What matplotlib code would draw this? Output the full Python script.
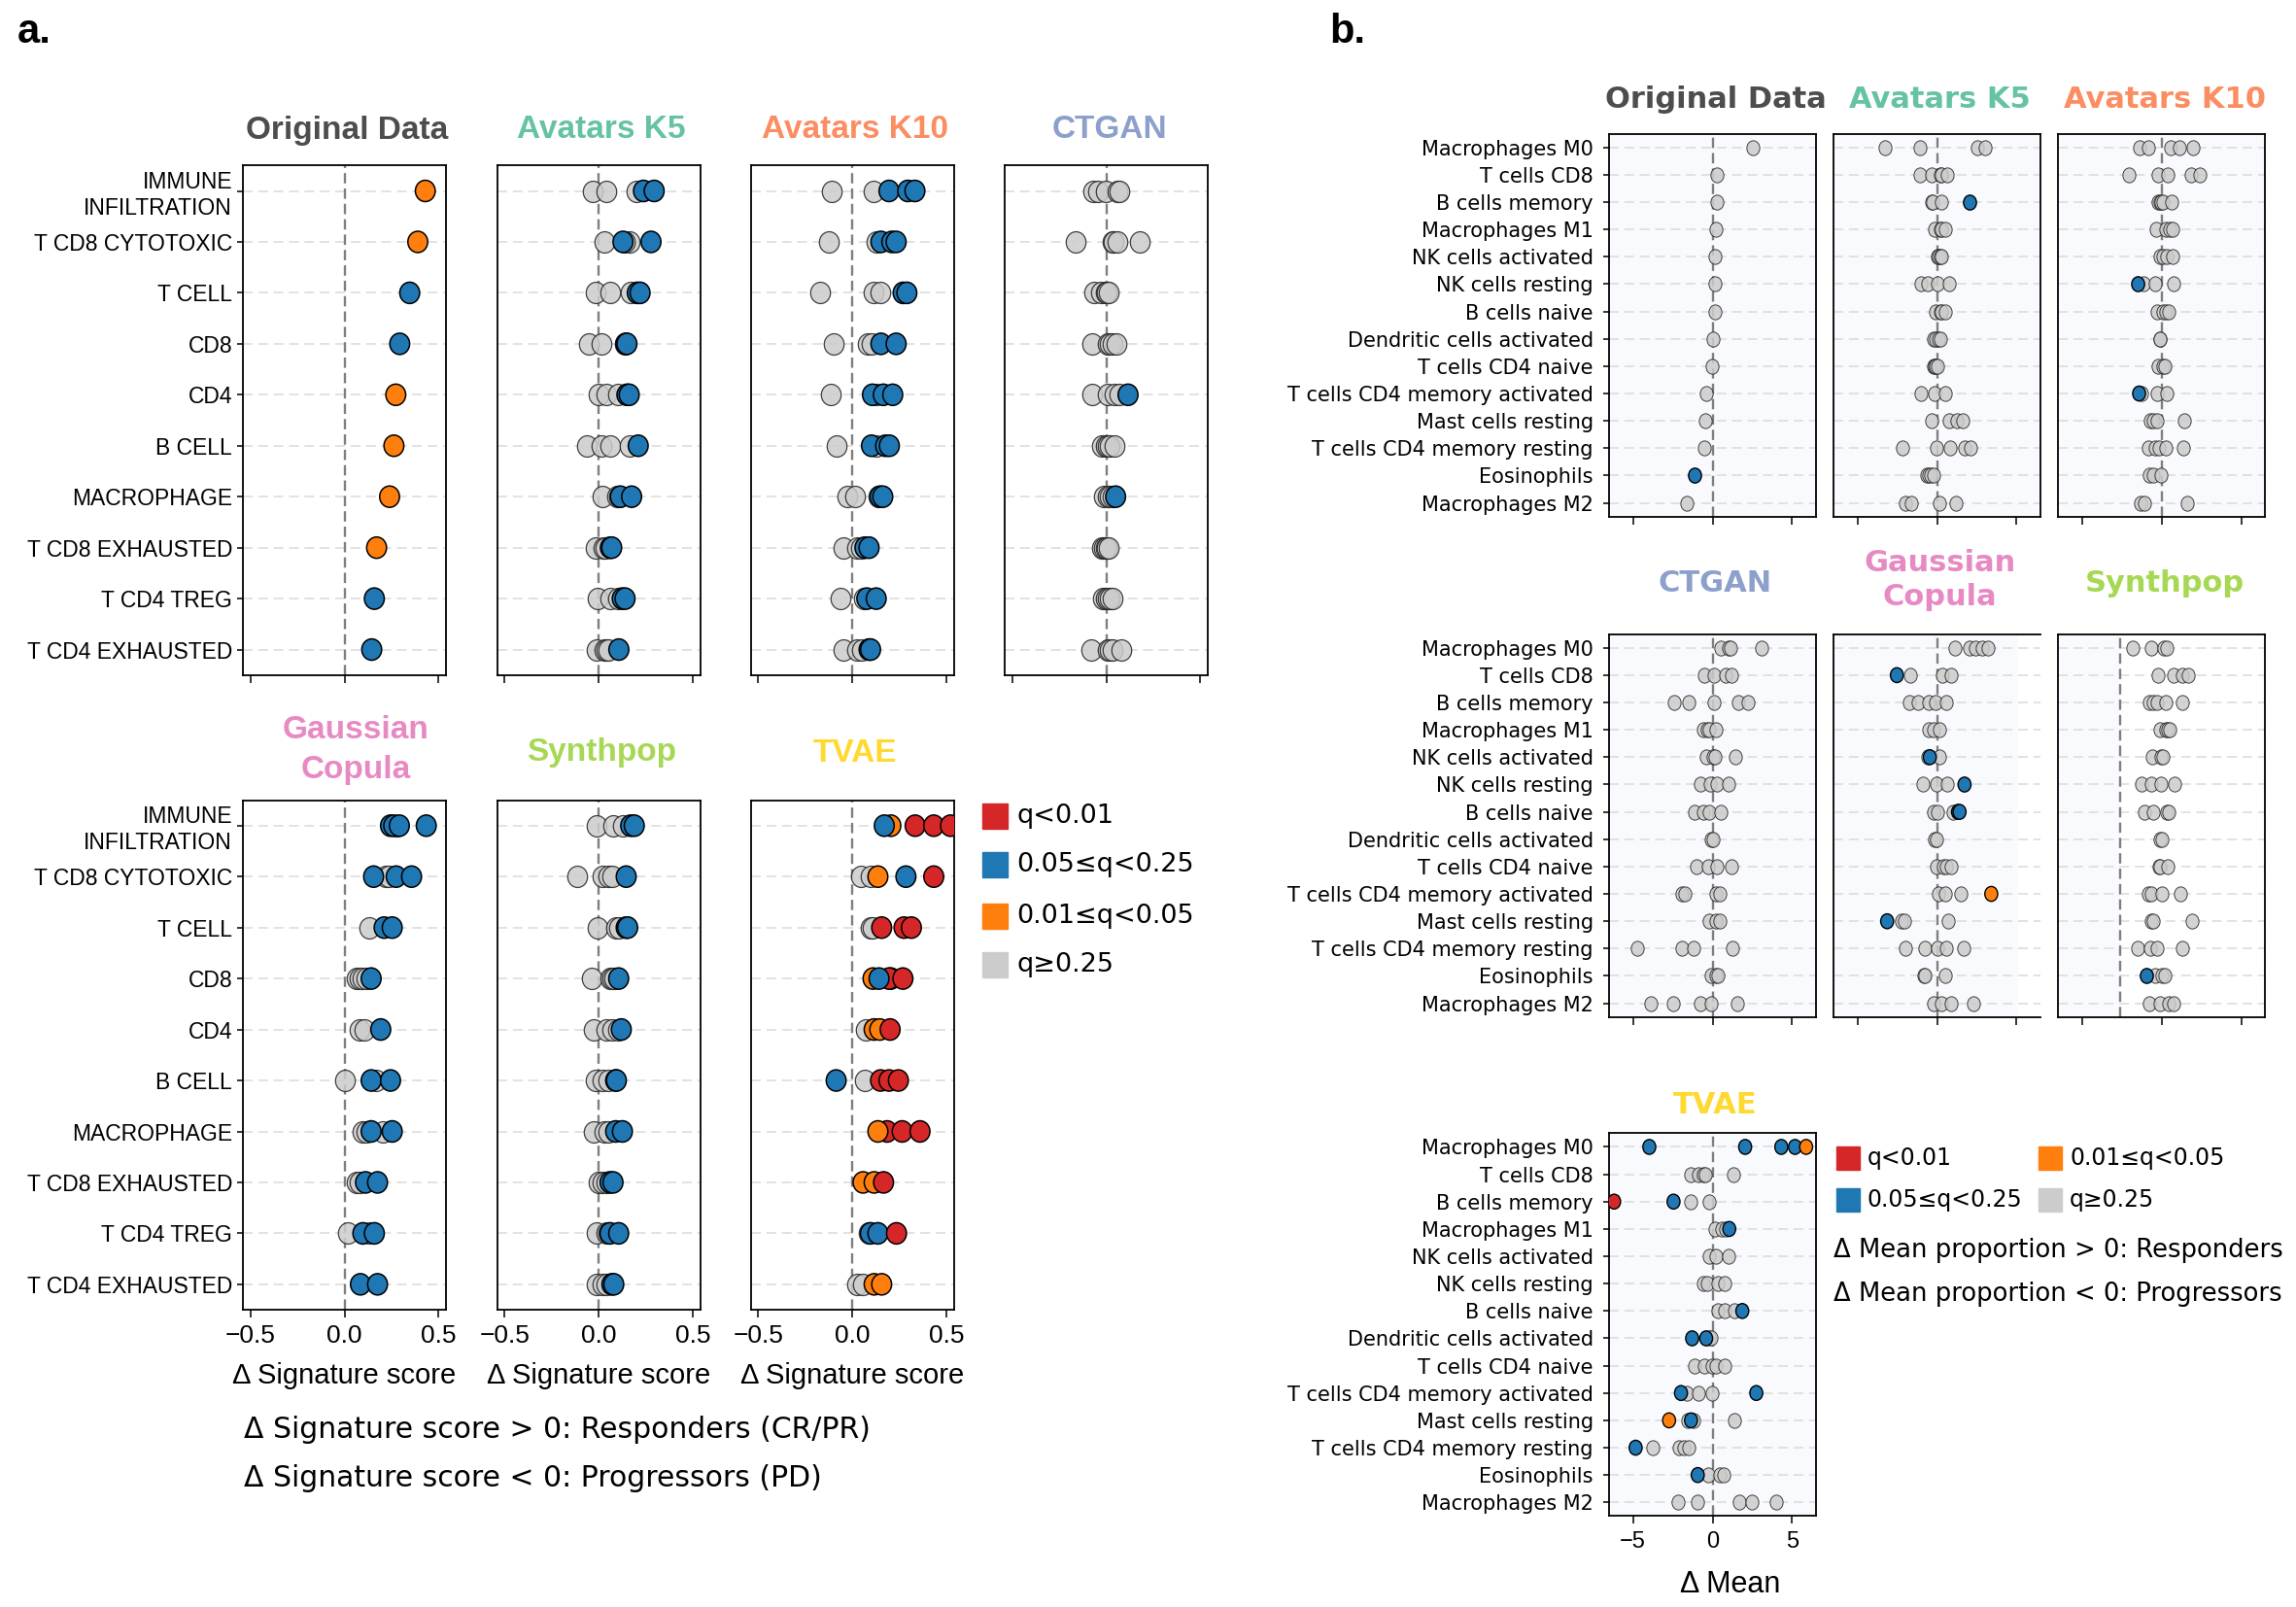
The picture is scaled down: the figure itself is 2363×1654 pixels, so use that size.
import matplotlib
matplotlib.use("Agg")
import matplotlib.pyplot as plt
from matplotlib.path import Path
from matplotlib.patches import Rectangle

plt.rcParams["font.family"] = ["Liberation Sans", "DejaVu Sans"]

# ---------------- data: panel a (signature scores) ----------------
signatures = ["IMMUNE\nINFILTRATION", "T CD8 CYTOTOXIC", "T CELL", "CD8", "CD4",
              "B CELL", "MACROPHAGE", "T CD8 EXHAUSTED", "T CD4 TREG", "T CD4 EXHAUSTED"]

# q codes: r q<0.01, o 0.01<=q<0.05, b 0.05<=q<0.25, g q>=0.25
a_orig_x = [[0.43], [0.39], [0.347], [0.294], [0.273], [0.263], [0.24], [0.171], [0.159], [0.145]]
a_orig_q = ["o", "o", "b", "b", "o", "o", "o", "o", "b", "b"]

a_k5_x = [[-0.03, 0.043, 0.20, 0.239, 0.296], [0.03, 0.163, 0.14, 0.13, 0.279],
          [-0.013, 0.063, 0.17, 0.206, 0.221], [-0.05, 0.018, 0.138, 0.145, 0.151],
          [0.0, 0.043, 0.105, 0.151, 0.163], [-0.06, 0.013, 0.063, 0.163, 0.211],
          [0.02, 0.10, 0.108, 0.116, 0.176], [-0.013, 0.025, 0.038, 0.063, 0.07],
          [-0.005, 0.063, 0.105, 0.126, 0.141], [-0.008, 0.03, 0.043, 0.05, 0.108]]
a_k5_q = ["gggbb", "gggbb", "gggbb", "gggbb", "gggbb", "ggggb", "gggbb", "gggbb", "gggbb", "ggggb"]

a_k10_x = [[-0.108, 0.116, 0.196, 0.296, 0.334], [-0.126, 0.128, 0.153, 0.211, 0.234],
           [-0.168, 0.116, 0.148, 0.271, 0.291], [-0.098, 0.083, 0.103, 0.153, 0.234],
           [-0.116, 0.128, 0.108, 0.166, 0.216], [-0.085, 0.128, 0.103, 0.178, 0.198],
           [-0.028, 0.018, 0.14, 0.148, 0.163], [-0.048, 0.028, 0.048, 0.068, 0.09],
           [-0.06, 0.06, 0.078, 0.128], [-0.048, 0.028, 0.053, 0.09, 0.098]]
a_k10_q = ["ggbbb", "ggbbb", "gggbb", "gggbb", "ggbbb", "ggbbb", "gggbb", "gggbb", "ggbb", "gggbb"]

a_ctgan_x = [[-0.068, -0.043, -0.005, 0.058, 0.07], [-0.163, 0.033, 0.04, 0.058, 0.176],
             [-0.063, -0.03, -0.005, 0.003, 0.013], [-0.075, 0.008, 0.02, 0.033, 0.053],
             [-0.073, 0.008, 0.045, 0.07, 0.116], [-0.023, -0.005, 0.008, 0.02, 0.045],
             [-0.013, 0.008, 0.02, 0.033, 0.05], [-0.023, -0.013, -0.005, 0.003, 0.013],
             [-0.018, -0.005, 0.008, 0.02, 0.033], [-0.08, 0.008, 0.02, 0.033, 0.078]]
a_ctgan_q = ["ggggg", "ggggg", "ggggg", "ggggg", "ggggb", "ggggg", "ggggb", "ggggg", "ggggg", "ggggg"]

a_gc_x = [[0.245, 0.262, 0.275, 0.292, 0.435], [0.155, 0.219, 0.237, 0.275, 0.357],
          [0.13, 0.211, 0.254], [0.064, 0.081, 0.098, 0.116, 0.142],
          [0.078, 0.107, 0.193], [0.003, 0.142, 0.168, 0.245],
          [0.098, 0.116, 0.142, 0.202, 0.254], [0.064, 0.081, 0.112, 0.176],
          [0.016, 0.098, 0.133, 0.159], [0.085, 0.176]]
a_gc_q = ["bbgbb", "bggbb", "gbb", "ggggb", "ggb", "gbgb", "ggbgb", "ggbb", "gbgb", "bb"]

a_synth_x = [[-0.012, 0.077, 0.131, 0.171, 0.19], [-0.113, 0.022, 0.052, 0.071, 0.147],
             [-0.004, 0.091, 0.111, 0.147, 0.155], [-0.038, 0.061, 0.071, 0.081, 0.107],
             [-0.028, 0.042, 0.071, 0.101, 0.121], [-0.018, 0.022, 0.052, 0.091, 0.095],
             [-0.024, 0.032, 0.052, 0.091, 0.127], [0.002, 0.022, 0.042, 0.061, 0.077],
             [-0.008, 0.042, 0.052, 0.061, 0.107], [-0.012, 0.022, 0.042, 0.071, 0.081]]
a_synth_q = ["gggbb", "ggggb", "gggbb", "ggggb", "ggggb", "gggbb", "gggbb", "gggbb", "gggbb", "gggbb"]

a_tvae_x = [[0.206, 0.171, 0.335, 0.434, 0.523], [0.048, 0.097, 0.137, 0.286, 0.434],
            [0.097, 0.107, 0.157, 0.276, 0.315], [0.111, 0.206, 0.196, 0.27, 0.143],
            [0.071, 0.117, 0.147, 0.202], [0.067, -0.085, 0.151, 0.196, 0.246],
            [0.186, 0.137, 0.266, 0.361], [0.058, 0.117, 0.167],
            [0.09, 0.097, 0.137, 0.236], [0.028, 0.058, 0.117, 0.157]]
a_tvae_q = ["obrrr", "ggobr", "ggrrr", "oorrb", "goor", "gbrrr", "rorr", "oor", "gbbr", "ggoo"]

# ---------------- data: panel b (cell type proportions) ----------------
cell_types = ["Macrophages M0", "T cells CD8", "B cells memory", "Macrophages M1",
              "NK cells activated", "NK cells resting", "B cells naive",
              "Dendritic cells activated", "T cells CD4 naive", "T cells CD4 memory activated",
              "Mast cells resting", "T cells CD4 memory resting", "Eosinophils", "Macrophages M2"]

b_orig_x = [[2.52], [0.28], [0.28], [0.19], [0.16], [0.16], [0.16], [0.0], [-0.05],
            [-0.4], [-0.47], [-0.51], [-1.12], [-1.63]]
b_orig_q = ["g"] * 12 + ["b", "g"]

b_k5_x = [[-3.25, -1.06, 2.54, 3.01], [-1.06, -0.35, 0.2, 0.3, 0.65], [-0.35, -0.26, 0.26, 2.03],
          [-0.16, 0.2, 0.3, 0.51], [0.0, 0.1, 0.2, 0.3], [-0.98, -0.61, 0.04, 0.75],
          [-0.1, 0.2, 0.3, 0.51], [-0.2, -0.1, 0.1, 0.2], [-0.24, -0.16, -0.1, 0.0],
          [-0.98, -0.16, 0.51], [-0.35, 0.77, 1.28, 1.63], [-2.17, -0.06, 0.81, 1.73, 2.13],
          [-0.65, -0.51, -0.41, -0.24], [-1.99, -1.59, 0.16, 1.18]]
b_k5_q = ["gggg", "ggggg", "gggb", "gggg", "gggg", "gggg", "gggg", "gggg", "gggg",
          "ggg", "gggg", "ggggg", "gggg", "gggg"]

b_k10_x = [[-1.42, -0.87, 0.57, 1.12, 1.97], [-2.09, -0.26, 0.35, 1.83, 2.4],
           [-0.26, -0.14, -0.06, 0.1, 0.61], [-0.37, 0.26, 0.51, 0.71], [-0.1, 0.1, 0.3, 0.67],
           [-1.12, -0.41, 0.75, -1.48], [-0.3, 0.1, 0.26, 0.41], [-0.14, -0.1],
           [-0.26, 0.1, 0.2], [-1.3, -0.3, 0.3, -1.42], [-0.71, -0.51, -0.3, 1.42],
           [-0.87, -0.41, -0.2, 0.26, 1.36], [-0.81, -0.51, -0.06], [-1.32, -1.08, 1.59]]
b_k10_q = ["ggggg", "ggggg", "ggggg", "gggg", "gggg", "gggb", "gggg", "gg", "ggg",
           "gggb", "gggg", "ggggg", "ggg", "ggg"]

b_ctgan_x = [[0.51, 0.98, 1.1, 3.1], [-0.54, 0.07, 0.82, 1.17], [-2.4, -1.47, 0.07, 1.63, 2.22],
             [-0.58, -0.35, -0.23, 0.19], [-0.42, 0.05, 0.16, 1.45], [-0.77, -0.16, 0.28, 1.0],
             [-1.12, -0.58, -0.23, 0.51], [-0.12, 0.0], [-0.98, -0.3, 0.3, 1.17],
             [-1.91, -1.75, 0.23, 0.47], [-0.19, 0.19, 0.47], [-4.74, -1.91, -1.17, 1.28],
             [-0.12, 0.19, 0.35], [-3.9, -2.5, -0.77, -0.07, 1.56]]
b_ctgan_q = ["g" * len(r) for r in b_ctgan_x]

b_gc_x = [[1.12, 2.03, 2.44, 2.85, 3.21], [-1.69, 0.35, 0.87, -2.52],
          [-1.73, -1.18, -0.51, -0.1, 0.61], [-0.51, -0.2, 0.14], [-0.61, 0.14, -0.45],
          [-0.91, -0.04, 0.67, 1.73], [-0.2, 0.04, 0.98, 1.32, 1.42], [-0.14, -0.06],
          [-0.04, 0.37, 0.6, 0.91], [0.1, 0.51, 1.52, 3.41], [-2.24, -2.03, 0.71, -3.13],
          [-1.97, -0.75, 0.0, 0.57, 1.67], [-0.85, -0.75, 0.51], [-0.2, 0.3, 0.87, 2.28]]
b_gc_q = ["ggggg", "gggb", "ggggg", "ggg", "ggb", "gggb", "gggbb", "gg", "gggg", "gggo",
          "gggb", "ggggg", "ggg", "gggg"]

b_synth_x = [[-1.79, -0.65, 0.14, 0.3], [-0.24, 0.75, 1.32, 1.63], [-0.77, -0.55, -0.3, 0.26, 1.28],
             [-0.14, 0.26, 0.4, 0.51], [-0.61, -0.04, 0.06], [-1.28, -0.65, -0.04, 0.81],
             [-1.08, -0.51, 0.31, 0.41], [-0.1, 0.0], [-0.2, -0.14, 0.35],
             [-0.87, -0.65, 0.04, 1.16], [-0.67, -0.51, 1.89], [-1.52, -0.71, -0.3, 1.28],
             [-0.41, 0.0, 0.2, -0.98], [-0.81, -0.14, 0.41, 0.75]]
b_synth_q = ["gggg", "gggg", "ggggg", "gggg", "ggg", "gggg", "gggg", "gg", "ggg", "gggg",
             "ggg", "gggg", "gggb", "gggg"]
b_synth_ref = -2.6

b_tvae_x = [[-3.97, 2.05, 4.32, 5.18, 5.88], [-1.4, -0.89, -0.58, -0.47, 1.33],
            [-1.4, -0.23, -6.18, -2.45], [0.16, 0.58, 0.85, 1.05], [-0.23, 0.19, 1.0],
            [-0.58, -0.35, 0.35, 0.77], [0.35, 0.75, 1.4, 1.87], [-0.23, -0.12, -1.28, -0.4],
            [-1.1, -0.51, -0.05, 0.23, 0.75], [-1.63, -0.89, -0.05, -1.98, 2.75],
            [-1.56, -1.17, 1.4, -2.73, -1.35], [-3.73, -2.1, -1.82, -1.52, -4.83],
            [-0.28, 0.47, 0.7, -0.93], [-2.15, -0.93, 1.68, 2.45, 3.97]]
b_tvae_q = ["bbbbo", "ggggg", "ggrb", "gggb", "ggg", "gggg", "gggb", "ggbb", "ggggg",
            "gggbb", "gggob", "ggggb", "gggb", "ggggg"]

legend_labels = ["q<0.01", "0.05≤q<0.25", "0.01≤q<0.05", "q≥0.25"]
legend_codes = ["r", "b", "o", "g"]

# ---------------- style ----------------
qcol = {"r": "#d62728", "o": "#ff7f0e", "b": "#1f77b4", "g": "#cccccc"}
title_col = {"Original Data": "#4d4d4d", "Avatars K5": "#66c2a5", "Avatars K10": "#fc8d62",
             "CTGAN": "#8da0cb", "Gaussian\nCopula": "#e78ac3", "Synthpop": "#a6d854",
             "TVAE": "#ffd92f"}
B_FACE = "#f8fafd"

W, H = 2363, 1654
fig = plt.figure(figsize=(W / 100, H / 100), dpi=100)


def px_axes(left, top, width, height):
    return fig.add_axes([left / W, 1 - (top + height) / H, width / W, height / H])


def ftext(x, y, s, **kw):
    return fig.text(x / W, 1 - y / H, s, **kw)


def oval(ratio):
    circ = Path.unit_circle()
    return Path(circ.vertices * [ratio, 1.0], circ.codes)


def draw_panel(ax, vals, codes, xlim, xticks, msize, ratio, glw, clw, ref=0.0):
    n = len(vals)
    ax.set_xlim(*xlim)
    ax.set_ylim(n - 0.5, -0.5)
    ax.set_yticks(range(n))
    ax.set_xticks(xticks)
    ax.set_axisbelow(True)
    ax.grid(axis="y", color="#dddddd", lw=1.2, ls=(0, (6, 3.5)))
    ax.axvline(ref, color="#7f7f7f", lw=1.7, ls=(0, (4.5, 2.2)), zorder=1)
    gx, gy, cx, cy, cc = [], [], [], [], []
    for i, (row, q) in enumerate(zip(vals, codes)):
        for v, c in zip(row, q):
            if c == "g":
                gx.append(v)
                gy.append(i)
            else:
                cx.append(v)
                cy.append(i)
                cc.append(qcol[c])
    mk = oval(ratio)
    ax.scatter(gx, gy, s=msize, marker=mk, c=qcol["g"], edgecolors="#222222",
               linewidths=glw, alpha=0.85, zorder=3)
    if cx:
        ax.scatter(cx, cy, s=msize, marker=mk, c=cc, edgecolors="black",
                   linewidths=clw, zorder=4)
    for sp in ax.spines.values():
        sp.set_linewidth(1.3)
    ax.tick_params(axis="y", left=False, labelleft=False)
    ax.tick_params(axis="x", length=5.8, width=1.1, labelbottom=False)


# ---------------- panel a ----------------
a_lefts = [250, 511.5, 772.5, 1034]
a_w = 209
a_rows = [(170.3, 524.5), (823.6, 524.5)]
a_panels = [
    ("Original Data", a_orig_x, a_orig_q, 0, 0),
    ("Avatars K5", a_k5_x, a_k5_q, 0, 1),
    ("Avatars K10", a_k10_x, a_k10_q, 0, 2),
    ("CTGAN", a_ctgan_x, a_ctgan_q, 0, 3),
    ("Gaussian\nCopula", a_gc_x, a_gc_q, 1, 0),
    ("Synthpop", a_synth_x, a_synth_q, 1, 1),
    ("TVAE", a_tvae_x, a_tvae_q, 1, 2),
]
for name, vals, codes, r, c in a_panels:
    top, h = a_rows[r]
    ax = px_axes(a_lefts[c], top, a_w, h)
    draw_panel(ax, vals, codes, (-0.54, 0.54), [-0.5, 0, 0.5], 250, 0.93, 0.9, 1.1)
    if c == 0:
        ax.tick_params(axis="y", left=True, labelleft=True, length=4.3, width=1.1,
                       pad=3.6, labelsize=16.5)
        ax.set_yticklabels(signatures)
    if r == 1:
        ax.tick_params(axis="x", labelbottom=True, labelsize=19, pad=5)
        ax.set_xlabel("Δ Signature score", fontsize=21, labelpad=11)
    cx = a_lefts[c] + a_w / 2
    if name == "Gaussian\nCopula":
        ftext(cx + 12, 772, name, ha="center", va="center", fontsize=24,
              fontweight="bold", color=title_col[name], linespacing=1.4)
    else:
        ty = 134 if r == 0 else 775
        ftext(cx + 3, ty, name, ha="center", va="center", fontsize=24,
              fontweight="bold", color=title_col[name])

# legend a
for k, (lab, code) in enumerate(zip(legend_labels, legend_codes)):
    yc = [840, 890, 942.7, 992.7][k]
    fig.add_artist(Rectangle((1010.7 / W, 1 - (yc + 13) / H), 26 / W, 26 / H,
                             transform=fig.transFigure, color=qcol[code]))
    ftext(1046, yc, lab, ha="left", va="center", fontsize=19.5, family="DejaVu Sans")

ftext(251, 1471.7, "Δ Signature score > 0: Responders (CR/PR)", ha="left", va="center",
      fontsize=21.5, family="DejaVu Sans")
ftext(251, 1521.7, "Δ Signature score < 0: Progressors (PD)", ha="left", va="center",
      fontsize=21.5, family="DejaVu Sans")

# ---------------- panel b ----------------
b_lefts = [1656, 1887, 2118.3]
b_w = 213
b_h = 394
b_tops = [137.7, 652.7, 1166.4]
b_panels = [
    ("Original Data", b_orig_x, b_orig_q, 0, 0),
    ("Avatars K5", b_k5_x, b_k5_q, 0, 1),
    ("Avatars K10", b_k10_x, b_k10_q, 0, 2),
    ("CTGAN", b_ctgan_x, b_ctgan_q, 1, 0),
    ("Gaussian\nCopula", b_gc_x, b_gc_q, 1, 1),
    ("Synthpop", b_synth_x, b_synth_q, 1, 2),
    ("TVAE", b_tvae_x, b_tvae_q, 2, 0),
]
for name, vals, codes, r, c in b_panels:
    ax = px_axes(b_lefts[c], b_tops[r], b_w, b_h)
    ref = b_synth_ref if name == "Synthpop" else 0.0
    draw_panel(ax, vals, codes, (-6.5, 6.5), [-5, 0, 5], 121, 0.87, 0.7, 1.0, ref=ref)
    if name == "Synthpop":
        ax.set_facecolor("white")
        ax.axvspan(-6.5, ref, color=B_FACE, zorder=0, lw=0)
    elif name == "Gaussian\nCopula":
        ax.set_facecolor("white")
        ax.axvspan(-6.5, 5.09, color=B_FACE, zorder=0, lw=0)
        ax.spines["right"].set_visible(False)
    else:
        ax.set_facecolor(B_FACE)
    ax.tick_params(axis="x", length=5.5)
    if c == 0:
        ax.tick_params(axis="y", left=True, labelleft=True, length=4.1, width=1.1,
                       pad=7.5, labelsize=15)
        ax.set_yticklabels(cell_types, family="DejaVu Sans")
    if r == 2:
        ax.tick_params(axis="x", labelbottom=True, labelsize=17, pad=6)
        ax.set_xlabel("Δ Mean", fontsize=22)
        ax.xaxis.set_label_coords(0.587, -0.142)
    cx = b_lefts[c] + b_w / 2
    if name == "Gaussian\nCopula":
        ftext(cx + 3, 597, name, ha="center", va="center", fontsize=22,
              fontweight="bold", color=title_col[name], family="DejaVu Sans",
              linespacing=1.25)
    else:
        ty = {0: 102.5, 1: 600.5, 2: 1137}[r]
        ftext(cx + 3, ty, name, ha="center", va="center", fontsize=22,
              fontweight="bold", color=title_col[name], family="DejaVu Sans")

# legend b
b_leg_pos = [(1890, 1192.3), (1890, 1235), (2098.3, 1192.3), (2098.3, 1235)]
for k in range(4):
    x0, yc = b_leg_pos[k]
    fig.add_artist(Rectangle((x0 / W, 1 - (yc + 12) / H), 24 / W, 24 / H,
                             transform=fig.transFigure, color=qcol[legend_codes[k]]))
    ftext(x0 + 31.7, yc, legend_labels[k], ha="left", va="center", fontsize=17,
          family="DejaVu Sans")

ftext(1886.7, 1286.7, "Δ Mean proportion > 0: Responders", ha="left", va="center",
      fontsize=18.6, family="DejaVu Sans")
ftext(1886.7, 1331.7, "Δ Mean proportion < 0: Progressors", ha="left", va="center",
      fontsize=18.6, family="DejaVu Sans")

# panel letters
ftext(18, 33, "a.", ha="left", va="center", fontsize=30, fontweight="bold")
ftext(1368, 33, "b.", ha="left", va="center", fontsize=30, fontweight="bold")

fig.savefig("out.png", dpi=100)
